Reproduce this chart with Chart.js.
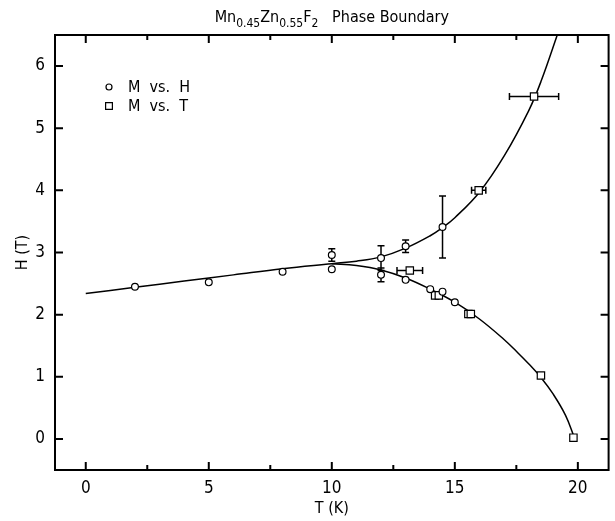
<!DOCTYPE html>
<html>
<head>
<meta charset="utf-8">
<title>Phase Boundary</title>
<script src="https://cdn.jsdelivr.net/npm/chart.js@4.4.1/dist/chart.umd.min.js"></script>
<style>
  html, body { margin: 0; padding: 0; background: #fff; }
  #wrap { width: 615px; height: 521px; }
</style>
</head>
<body>
<div id="wrap"><canvas id="phase"></canvas></div>
<script>
// Fitted boundary: low-field line plus the branch that turns up
const upperT = [0, 2, 4, 6, 8, 10, 11, 12, 13, 14, 14.5, 15, 16, 17, 18, 18.5, 19.25];
const upperH = [2.34, 2.44, 2.54, 2.64, 2.74, 2.82, 2.86, 2.93, 3.07, 3.27, 3.4, 3.56, 3.97, 4.55, 5.28, 5.75, 6.6];

// Branch that turns down to H = 0
const lowerT = [10, 11, 12, 13, 14, 15, 16, 17, 17.5, 18, 18.5, 19, 19.5, 19.85];
const lowerH = [2.82, 2.79, 2.72, 2.59, 2.41, 2.2, 1.93, 1.6, 1.41, 1.21, 0.99, 0.72, 0.38, 0.03];

// M vs. H points, with vertical (field) uncertainty
const circT    = [2, 5, 8, 10, 10, 12, 12, 13, 13, 14, 14.5, 14.5, 15];
const circH    = [2.45, 2.52, 2.69, 2.73, 2.96, 2.91, 2.64, 3.1, 2.56, 2.41, 2.37, 3.41, 2.2];
const circErrH = [0, 0, 0, 0, 0.1, 0.2, 0.11, 0.1, 0, 0, 0, 0.5, 0];

// M vs. T points, with horizontal (temperature) uncertainty
const sqT    = [13.17, 14.2, 14.35, 15.55, 15.65, 15.97, 18.22, 18.5, 19.82];
const sqH    = [2.71, 2.31, 2.31, 2.01, 2.01, 4.0, 5.51, 1.02, 0.02];
const sqErrT = [0.52, 0, 0, 0, 0, 0.29, 1.0, 0, 0];

// Axis ticks
const xMajorTicks = [0, 5, 10, 15, 20];
const xMinorTicks = [2.5, 7.5, 12.5, 17.5];
const yTicks = [0, 1, 2, 3, 4, 5, 6];

const FONT = "'Liberation Sans Narrow', 'DejaVu Sans Condensed', 'Liberation Sans', sans-serif";
const INK = '#000';

const toXY = (xs, ys) => xs.map((x, i) => ({ x: x, y: ys[i] }));

// error bars sit under the white-filled markers
const errorBars = {
  id: 'errorBars',
  beforeDatasetsDraw(chart) {
    const { ctx, scales: { x, y } } = chart;
    const cap = 3.5;
    ctx.save();
    ctx.strokeStyle = INK;
    ctx.lineWidth = 1.5;
    ctx.beginPath();
    circT.forEach((t, i) => {
      const e = circErrH[i];
      if (!e) return;
      const px = x.getPixelForValue(t);
      const y0 = y.getPixelForValue(circH[i] - e);
      const y1 = y.getPixelForValue(circH[i] + e);
      ctx.moveTo(px, y0); ctx.lineTo(px, y1);
      ctx.moveTo(px - cap, y0); ctx.lineTo(px + cap, y0);
      ctx.moveTo(px - cap, y1); ctx.lineTo(px + cap, y1);
    });
    sqT.forEach((t, i) => {
      const e = sqErrT[i];
      if (!e) return;
      const py = y.getPixelForValue(sqH[i]);
      const x0 = x.getPixelForValue(t - e);
      const x1 = x.getPixelForValue(t + e);
      ctx.moveTo(x0, py); ctx.lineTo(x1, py);
      ctx.moveTo(x0, py - cap); ctx.lineTo(x0, py + cap);
      ctx.moveTo(x1, py - cap); ctx.lineTo(x1, py + cap);
    });
    ctx.stroke();
    ctx.restore();
  }
};

// box frame with inward ticks on all four sides
const frame = {
  id: 'frame',
  afterDraw(chart) {
    const { ctx, chartArea: a, scales: { x, y } } = chart;
    ctx.save();
    ctx.strokeStyle = INK;
    ctx.lineWidth = 2;
    ctx.strokeRect(a.left, a.top, a.right - a.left, a.bottom - a.top);
    ctx.beginPath();
    const xt = (v, len) => {
      const px = x.getPixelForValue(v);
      ctx.moveTo(px, a.bottom); ctx.lineTo(px, a.bottom - len);
      ctx.moveTo(px, a.top); ctx.lineTo(px, a.top + len);
    };
    xMajorTicks.forEach(v => xt(v, 8));
    xMinorTicks.forEach(v => xt(v, 5));
    yTicks.forEach(v => {
      const py = y.getPixelForValue(v);
      ctx.moveTo(a.left, py); ctx.lineTo(a.left + 8, py);
      ctx.moveTo(a.right, py); ctx.lineTo(a.right - 8, py);
    });
    ctx.stroke();
    ctx.restore();
  }
};

// chemical formula title with subscripts
const formulaTitle = {
  id: 'formulaTitle',
  afterDraw(chart) {
    const { ctx, chartArea: a } = chart;
    const parts = [
      ['Mn', 0], ['0.45', 1], ['Zn', 0], ['0.55', 1], ['F', 0], ['2', 1], ['   Phase Boundary', 0]
    ];
    const big = '16px ' + FONT, small = '12px ' + FONT;
    ctx.save();
    let w = 0;
    parts.forEach(([s, sub]) => { ctx.font = sub ? small : big; w += ctx.measureText(s).width; });
    let cx = (a.left + a.right) / 2 - w / 2;
    const base = 22;
    ctx.fillStyle = INK;
    ctx.textBaseline = 'alphabetic';
    ctx.textAlign = 'left';
    parts.forEach(([s, sub]) => {
      ctx.font = sub ? small : big;
      ctx.fillText(s, cx, sub ? base + 5 : base);
      cx += ctx.measureText(s).width;
    });
    ctx.restore();
  }
};

// legend in the upper-left corner of the plot
const cornerLegend = {
  id: 'cornerLegend',
  afterDraw(chart) {
    const { ctx } = chart;
    const items = chart.data.datasets.filter(d => d.label);
    ctx.save();
    ctx.font = '16px ' + FONT;
    ctx.textBaseline = 'middle';
    items.forEach((d, i) => {
      const mx = 109, my = 87 + i * 19;
      ctx.fillStyle = '#fff';
      ctx.strokeStyle = INK;
      ctx.lineWidth = 1.2;
      Chart.helpers.drawPoint(ctx, {
        pointStyle: d.pointStyle, radius: d.pointRadius - 0.4, borderWidth: 1.2
      }, mx, my);
      ctx.fillStyle = INK;
      ctx.fillText(d.label, 128, my + 1);
    });
    ctx.restore();
  }
};

const curveStyle = {
  type: 'line',
  borderColor: INK,
  borderWidth: 1.5,
  pointRadius: 0,
  fill: false,
  tension: 0.4,
  order: 2
};

new Chart(document.getElementById('phase'), {
  type: 'scatter',
  data: {
    datasets: [
      Object.assign({ data: toXY(upperT, upperH) }, curveStyle),
      Object.assign({ data: toXY(lowerT, lowerH) }, curveStyle),
      {
        label: 'M  vs.  H',
        data: toXY(circT, circH),
        pointStyle: 'circle',
        pointRadius: 3.4,
        pointBackgroundColor: '#fff',
        pointBorderColor: INK,
        pointBorderWidth: 1.2,
        order: 0
      },
      {
        label: 'M  vs.  T',
        data: toXY(sqT, sqH),
        pointStyle: 'rect',
        pointRadius: 5.2,
        pointBackgroundColor: '#fff',
        pointBorderColor: INK,
        pointBorderWidth: 1.2,
        order: 0
      }
    ]
  },
  options: {
    responsive: true,
    maintainAspectRatio: false,
    animation: false,
    events: [],
    layout: { padding: { top: 35, right: 4, left: 0, bottom: 0 } },
    plugins: {
      legend: { display: false },
      tooltip: { enabled: false },
      title: { display: false }
    },
    scales: {
      x: {
        type: 'linear',
        min: -1.25,
        max: 21.25,
        afterBuildTicks: s => { s.ticks = xMajorTicks.map(v => ({ value: v })); },
        afterFit: s => { s.height = 51; },
        grid: { display: false, drawTicks: false },
        border: { display: false },
        ticks: { color: INK, padding: 8, font: { family: FONT, size: 17 } },
        title: {
          display: true, text: 'T (K)', color: INK,
          font: { family: FONT, size: 16 }, padding: { top: 0, bottom: 3 }
        }
      },
      y: {
        type: 'linear',
        min: -0.5,
        max: 6.5,
        afterBuildTicks: s => { s.ticks = yTicks.map(v => ({ value: v })); },
        afterFit: s => { s.width = 55; },
        grid: { display: false, drawTicks: false },
        border: { display: false },
        ticks: { color: INK, padding: 10, font: { family: FONT, size: 17 } },
        title: {
          display: true, text: 'H (T)', color: INK,
          font: { family: FONT, size: 16 }, padding: { top: 13, bottom: 0 }
        }
      }
    }
  },
  plugins: [errorBars, frame, formulaTitle, cornerLegend]
});
</script>
</body>
</html>
